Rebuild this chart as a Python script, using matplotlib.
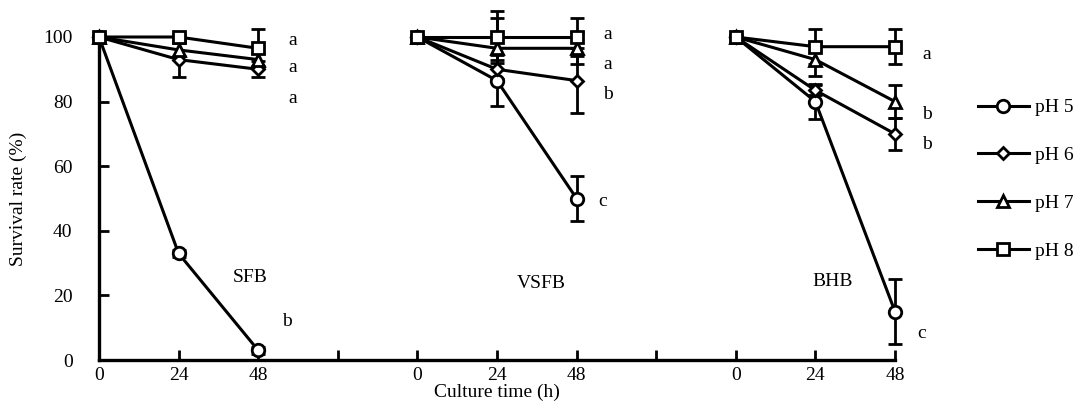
import matplotlib
matplotlib.use('Agg')
import matplotlib.pyplot as plt

plt.rcParams['font.family'] = ['Liberation Serif', 'DejaVu Serif']
plt.rcParams['font.size'] = 14

# Data
times = [0, 24, 48]
groups = ['SFB', 'VSFB', 'BHB']
series = ['pH 5', 'pH 6', 'pH 7', 'pH 8']

sfb_ph5 = [100, 33, 3]
sfb_ph6 = [100, 93, 90]
sfb_ph7 = [100, 96, 93]
sfb_ph8 = [100, 100, 96.5]
vsfb_ph5 = [100, 86.5, 50]
vsfb_ph6 = [100, 90, 86.5]
vsfb_ph7 = [100, 96.5, 96.5]
vsfb_ph8 = [100, 100, 100]
bhb_ph5 = [100, 80, 15]
bhb_ph6 = [100, 83.5, 70]
bhb_ph7 = [100, 93, 80]
bhb_ph8 = [100, 97, 97]

sfb_err5 = [0, 1, 1]
sfb_err6 = [0, 5.5, 2.5]
sfb_err7 = [0, 2, 2]
sfb_err8 = [0, 1, 6]
vsfb_err5 = [0, 8, 7]
vsfb_err6 = [0, 3, 10]
vsfb_err7 = [0, 9.5, 5]
vsfb_err8 = [0, 8, 6]
bhb_err5 = [0, 5.5, 10]
bhb_err6 = [0, 1.5, 5]
bhb_err7 = [0, 5, 5]
bhb_err8 = [0, 5.5, 5.5]

sig_sfb = ['a', 'a', 'a', 'b']
sig_vsfb = ['a', 'a', 'b', 'c']
sig_bhb = ['a', 'b', 'b', 'c']

means = {
    'SFB': [sfb_ph5, sfb_ph6, sfb_ph7, sfb_ph8],
    'VSFB': [vsfb_ph5, vsfb_ph6, vsfb_ph7, vsfb_ph8],
    'BHB': [bhb_ph5, bhb_ph6, bhb_ph7, bhb_ph8],
}
errs = {
    'SFB': [sfb_err5, sfb_err6, sfb_err7, sfb_err8],
    'VSFB': [vsfb_err5, vsfb_err6, vsfb_err7, vsfb_err8],
    'BHB': [bhb_err5, bhb_err6, bhb_err7, bhb_err8],
}
sigs = {'SFB': sig_sfb, 'VSFB': sig_vsfb, 'BHB': sig_bhb}

# layout helpers
offsets = {'SFB': 0, 'VSFB': 96, 'BHB': 192}
markers = ['o', 'D', '^', 's']
msizes = [9, 6.5, 8.5, 8]
sig_pos = {
    'SFB': [(58.5, 99), (58.5, 90.5), (58.5, 81), (56.7, 12)],
    'VSFB': [(153.5, 100.8), (153.5, 91.5), (153.5, 82.2), (152, 49)],
    'BHB': [(249.6, 94.6), (249.6, 76), (249.6, 66.7), (248, 8.2)],
}
name_pos = {'SFB': (45.5, 25.5), 'VSFB': (133.3, 23.7), 'BHB': (221.3, 24.2)}

fig = plt.figure(figsize=(10.83, 4.12), dpi=100)
ax = fig.add_axes([0.0914, 0.1262, 0.735, 0.784])

for g in groups:
    x = [t + offsets[g] for t in times]
    for i, s in enumerate(series):
        y = means[g][i]
        e = errs[g][i]
        xe = [xx for xx, ee in zip(x, e) if ee > 0]
        ye = [yy for yy, ee in zip(y, e) if ee > 0]
        ee_ = [ee for ee in e if ee > 0]
        ax.errorbar(xe, ye, yerr=ee_, fmt='none', ecolor='black', elinewidth=2,
                    capsize=5, capthick=2, clip_on=False, zorder=2)
        ax.plot(x, y, color='black', lw=2.2, marker=markers[i], ms=msizes[i],
                mfc='white', mec='black', mew=2, clip_on=False, zorder=3,
                label=s if g == 'SFB' else None)
    for lab, (px, py) in zip(sigs[g], sig_pos[g]):
        ax.text(px, py, lab, ha='center', va='center', fontsize=14)
    ax.text(name_pos[g][0], name_pos[g][1], g, ha='center', va='center', fontsize=14)

ax.set_xlim(0, 240)
ax.set_ylim(0, 100)
ax.set_xticks(range(0, 241, 24))
ax.set_xticklabels(['0', '24', '48', '', '0', '24', '48', '', '0', '24', '48'])
ax.set_yticks([0, 20, 40, 60, 80, 100])
ax.tick_params(axis='both', direction='in', length=7, width=2, labelsize=14)
ax.tick_params(axis='y', pad=19)
ax.tick_params(axis='x', pad=5)
for side in ['top', 'right']:
    ax.spines[side].set_visible(False)
for side in ['left', 'bottom']:
    ax.spines[side].set_linewidth(2.4)

ax.set_xlabel('Culture time (h)', fontsize=14, labelpad=0)
ax.set_ylabel('Survival rate (%)', fontsize=14, labelpad=12)

fig.legend(loc='upper left', bbox_to_anchor=(0.903, 0.76), frameon=False,
           borderpad=0, borderaxespad=0, handlelength=2.6, handletextpad=0.35,
           labelspacing=1.55, fontsize=14)

fig.savefig('out.png', dpi=100)
